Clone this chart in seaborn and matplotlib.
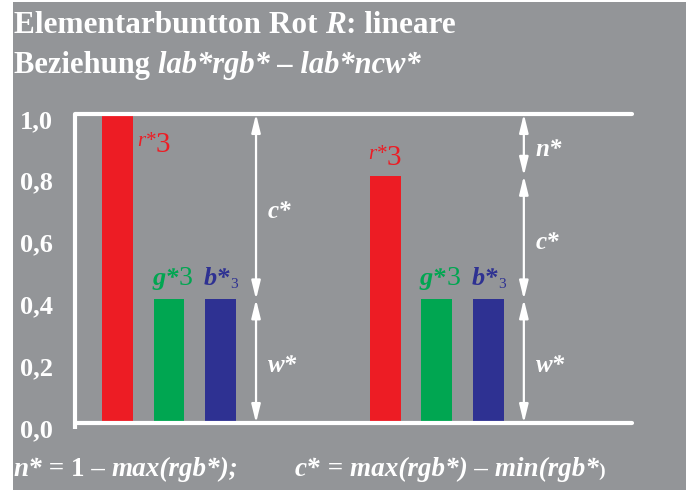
import matplotlib
matplotlib.use("Agg")
import matplotlib.pyplot as plt
import pandas as pd
import seaborn as sns
from matplotlib.patches import Rectangle
from matplotlib.patches import ArrowStyle
from matplotlib.transforms import offset_copy, ScaledTranslation

# --- data -------------------------------------------------------------
channels = ["r", "g", "b"]
left_values = [1.0, 0.4, 0.4]
right_values = [0.8, 0.4, 0.4]
yticks = [0.0, 0.2, 0.4, 0.6, 0.8, 1.0]
ytick_labels = ["0,0", "0,2", "0,4", "0,6", "0,8", "1,0"]
bar_colors = {"r": "#ED1C24", "g": "#00A651", "b": "#2E3192"}
bg_gray = "#939598"

sns.set_style("white")
plt.rcParams["font.family"] = ["Liberation Serif", "DejaVu Serif"]

W, H = 686, 495
fig = plt.figure(figsize=(W / 100, H / 100), dpi=100, facecolor="white")
fig.patches.append(Rectangle((13 / W, 5 / H), 1 - 13 / W, 488 / H,
                             transform=fig.transFigure, facecolor=bg_gray,
                             edgecolor="none", zorder=-10))

ax = fig.add_axes([75 / W, 72 / H, (632 - 75) / W, 309 / H])
ax.set_facecolor("none")

group_gap = 5.2
rows = []
for g, vals in enumerate([left_values, right_values]):
    for i, (ch, v) in enumerate(zip(channels, vals)):
        rows.append({"pos": g * group_gap + i, "value": v, "channel": ch})
df = pd.DataFrame(rows)

sns.barplot(data=df, x="pos", y="value", hue="channel", palette=bar_colors,
            native_scale=True, width=0.6, dodge=False, legend=False,
            saturation=1, linewidth=0, ax=ax)

ax.set_xlim(-0.825, 9.99)
ax.set_ylim(0, 1)
ax.set_xlabel("")
ax.set_ylabel("")
ax.set_xticks([])
for s in ["top", "right", "bottom"]:
    ax.spines[s].set_visible(False)
ax.spines["left"].set_color("white")
ax.spines["left"].set_linewidth(3)
ax.spines["left"].set_bounds(-0.02, 1.0)
ax.spines["left"].set_capstyle("butt")
ax.set_yticks(yticks)
ax.set_yticklabels(ytick_labels)
ax.tick_params(axis="y", direction="out", length=7, width=3, color="white",
               labelcolor="white", labelsize=19, pad=9)
for lab in ax.get_yticklabels():
    lab.set_fontweight("bold")
    lab.set_transform(lab.get_transform() +
                      ScaledTranslation(0, -5 / 100, fig.dpi_scale_trans))

for yv in (0.0, 1.0):
    ax.axhline(yv, color="white", lw=3, clip_on=False, zorder=5)

renderer = fig.canvas.get_renderer()


def rich_text(x, y, pieces, transform, **common):
    dx = 0.0
    for s, kw in pieces:
        props = dict(common)
        props.update(kw)
        dy = props.pop("dy", 0)
        tr = offset_copy(transform, fig=fig, x=dx, y=dy, units="dots")
        t = fig.text(x, y, s, transform=tr, va="baseline", ha="left", **props)
        dx += t.get_window_extent(renderer).width


B = dict(fontweight="bold", fontstyle="normal")
BI = dict(fontweight="bold", fontstyle="italic")

# title
rich_text(14 / W, (H - 33) / H,
          [("Elementarbuntton Rot ", B), ("R", BI), (": lineare", B)],
          fig.transFigure, color="white", fontsize=22.5)
rich_text(14 / W, (H - 73) / H,
          [("Beziehung ", B), ("lab*rgb* \u2013 lab*ncw*", BI)],
          fig.transFigure, color="white", fontsize=22)

# formulas below the plot
rich_text(13 / W, (H - 476) / H,
          [("n*", BI), (" = 1 \u2013 ", B), ("max(rgb*);", BI)],
          fig.transFigure, color="white", fontsize=19.5)
rich_text(295 / W, (H - 476) / H,
          [("c*", BI), (" = ", B), ("max(rgb*) \u2013 min(rgb*", BI),
           (")", dict(fontweight="bold", fontsize=14))],
          fig.transFigure, color="white", fontsize=19.5)

# bar labels
for g, vals in enumerate([left_values, right_values]):
    x0 = g * group_gap
    rv, gv, bv = vals
    r_x = x0 + (0.38 if rv >= 0.95 else -0.33)
    r_y = 0.877 if rv >= 0.95 else rv + 0.034
    rich_text(r_x, r_y,
              [("r*", dict(fontstyle="italic", fontsize=15, dy=6)),
               ("3", dict(fontsize=21))],
              ax.transData, color=bar_colors["r"])
    rich_text(x0 + 0.67, gv + 0.045,
              [("g*", dict(BI, fontsize=19)), ("3", dict(fontsize=20))],
              ax.transData, color=bar_colors["g"])
    rich_text(x0 + 1.68, bv + 0.045,
              [("b*", dict(BI, fontsize=19)), ("3", dict(fontsize=11, dy=-3))],
              ax.transData, color=bar_colors["b"])

# dimension arrows: n* = 1 - max, c* = max - min, w* = min
arrow_style = ArrowStyle("<|-|>", head_length=1.1, head_width=0.27)
for g, vals in enumerate([left_values, right_values]):
    x_arrow = g * group_gap + 2.69
    mx, mn = max(vals), min(vals)
    segs = []
    if 1.0 - mx > 1e-9:
        segs.append(("n*", 1.0, mx))
    segs.append(("c*", mx, mn))
    segs.append(("w*", mn, 0.0))
    for name, top, bot in segs:
        ax.annotate("", xy=(x_arrow, bot), xytext=(x_arrow, top),
                    arrowprops=dict(arrowstyle=arrow_style, color="white",
                                    lw=1.6, shrinkA=0, shrinkB=0,
                                    mutation_scale=10),
                    annotation_clip=False)
        ax.text(x_arrow + 0.23, (top + bot) / 2 - 0.015, name, color="white",
                fontsize=18, fontweight="bold", fontstyle="italic",
                va="center", ha="left")

fig.savefig("out.png", dpi=100, facecolor=fig.get_facecolor())
